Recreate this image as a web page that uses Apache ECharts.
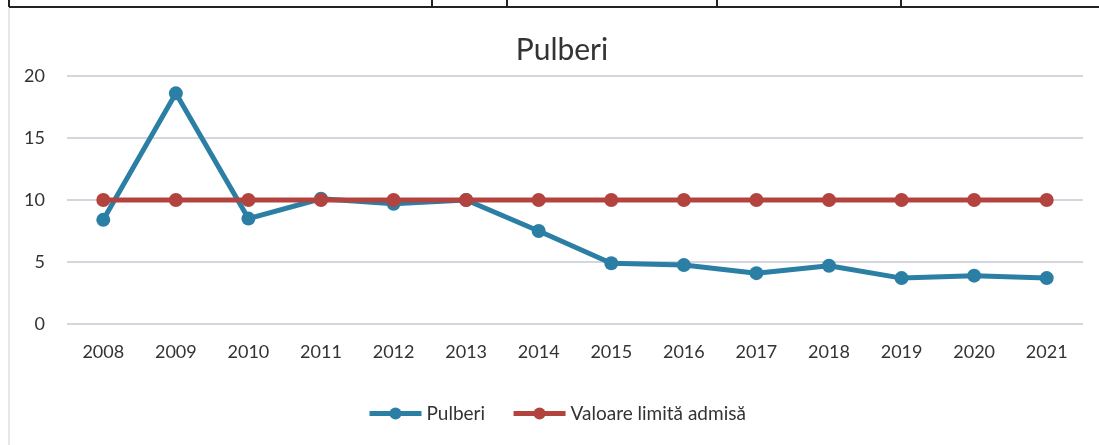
<!DOCTYPE html>
<html>
<head>
<meta charset="utf-8">
<script src="https://cdn.jsdelivr.net/npm/echarts@6/dist/echarts.min.js"></script>
<style>
  html, body { margin: 0; padding: 0; background: #fff; }
  #grafico { width: 1099px; height: 445px; }
</style>
</head>
<body>
<div id="grafico"></div>
<script>
var anos = ['2008', '2009', '2010', '2011', '2012', '2013', '2014', '2015', '2016', '2017', '2018', '2019', '2020', '2021'];
var pulberi = [8.4, 18.6, 8.5, 10.1, 9.7, 10.0, 7.5, 4.9, 4.75, 4.1, 4.7, 3.7, 3.9, 3.7];
var valoareLimita = [10, 10, 10, 10, 10, 10, 10, 10, 10, 10, 10, 10, 10, 10];

var fonte = 'Lato, "Open Sans", sans-serif';

var myChart = echarts.init(document.getElementById('grafico'));

var option = {
    animation: false,
    backgroundColor: '#fff',
    title: {
        text: 'Pulberi',
        left: 557,
        top: 30,
        textAlign: 'center',
        textStyle: { fontFamily: fonte, fontSize: 30, fontWeight: 'normal', color: '#333' }
    },
    legend: {
        bottom: 17,
        left: 362,
        itemWidth: 52,
        itemHeight: 15,
        itemGap: 26,
        lineStyle: { width: 5 },
        textStyle: { fontFamily: fonte, fontSize: 19, color: '#333' },
        data: ['Pulberi', 'Valoare limită admisă']
    },
    grid: {
        left: 67,
        right: 16,
        top: 76,
        height: 248
    },
    xAxis: {
        type: 'category',
        data: anos,
        boundaryGap: true,
        axisLine: { show: false },
        axisTick: { show: false },
        axisLabel: { fontFamily: fonte, fontSize: 18, color: '#333', margin: 19 }
    },
    yAxis: {
        type: 'value',
        min: 0,
        max: 20,
        interval: 5,
        axisLine: { show: false },
        axisTick: { show: false },
        axisLabel: { fontFamily: fonte, fontSize: 18, color: '#333', margin: 22 },
        splitLine: { lineStyle: { color: '#c6c7d2', width: 1.5 } }
    },
    series: [
        {
            name: 'Pulberi',
            type: 'line',
            data: pulberi,
            symbol: 'circle',
            symbolSize: 14,
            lineStyle: { color: '#2b7fa4', width: 5 },
            itemStyle: { color: '#2b7fa4' },
            z: 2
        },
        {
            name: 'Valoare limită admisă',
            type: 'line',
            data: valoareLimita,
            symbol: 'circle',
            symbolSize: 14,
            lineStyle: { color: '#b3433e', width: 5 },
            itemStyle: { color: '#b3433e' },
            z: 3
        }
    ],
    graphic: [
        // margem da tabela de cima
        { type: 'line', shape: { x1: 9, y1: 7, x2: 1099, y2: 7 }, style: { stroke: '#222', lineWidth: 2 } },
        { type: 'line', shape: { x1: 432, y1: 0, x2: 432, y2: 7 }, style: { stroke: '#222', lineWidth: 2 } },
        { type: 'line', shape: { x1: 507, y1: 0, x2: 507, y2: 7 }, style: { stroke: '#222', lineWidth: 2 } },
        { type: 'line', shape: { x1: 717, y1: 0, x2: 717, y2: 7 }, style: { stroke: '#222', lineWidth: 2 } },
        { type: 'line', shape: { x1: 901, y1: 0, x2: 901, y2: 7 }, style: { stroke: '#222', lineWidth: 2 } },
        { type: 'line', shape: { x1: 9, y1: 0, x2: 9, y2: 7 }, style: { stroke: '#222', lineWidth: 2 } },
        // borda do grafico
        { type: 'line', shape: { x1: 9, y1: 8, x2: 9, y2: 445 }, style: { stroke: '#cfcfd6', lineWidth: 1 } }
    ]
};

myChart.setOption(option);
</script>
</body>
</html>
